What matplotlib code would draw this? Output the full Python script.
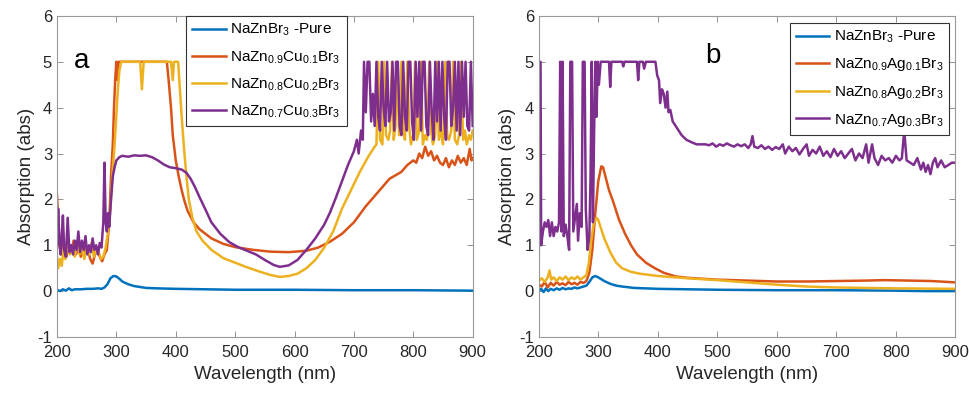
import matplotlib
matplotlib.use("Agg")
import matplotlib.pyplot as plt

plt.rcParams['font.family'] = ['Liberation Sans', 'DejaVu Sans']
plt.rcParams['mathtext.default'] = 'regular'
plt.rcParams['axes.unicode_minus'] = False

# colores tipo MATLAB
c_blue = '#0072BD'
c_orange = '#D95319'
c_yellow = '#EDB120'
c_purple = '#7E2F8E'

# ---------------- panel a (Cu) ----------------
a_pure_wl = [200, 205, 210, 215, 220, 225, 230, 240, 250, 260, 270, 275, 280, 285, 290, 295,
             300, 305, 310, 320, 330, 340, 350, 370, 400, 450, 500, 600, 700, 800, 900]
a_pure_abs = [0.03, 0.0, 0.04, 0.01, 0.06, 0.02, 0.04, 0.04, 0.05, 0.05, 0.06, 0.05, 0.08, 0.15, 0.28, 0.33,
              0.32, 0.27, 0.21, 0.15, 0.11, 0.09, 0.07, 0.06, 0.05, 0.04, 0.03, 0.03, 0.02, 0.02, 0.01]

a_cu1_wl = [200, 202, 204, 207, 210, 213, 216, 220, 224, 228, 232, 236, 240, 244, 248, 252, 256, 260,
            264, 268, 272, 276, 280, 284, 288, 291, 294, 296, 298, 300, 302, 304, 385, 388, 392, 395,
            400, 405, 410, 415, 420, 430, 440, 460, 480, 500, 530, 560, 590, 620, 640, 660, 680, 700,
            720, 740, 760, 780, 790, 800, 805, 810, 815, 820, 825, 830, 835, 840, 845, 850, 855, 860,
            865, 870, 875, 880, 885, 890, 895, 898, 900]
a_cu1_abs = [2.1, 1.6, 1.0, 0.8, 1.3, 0.9, 0.75, 1.0, 0.85, 1.1, 0.8, 0.95, 0.75, 1.0, 0.85, 0.9, 0.7, 0.6,
             0.8, 0.95, 0.75, 0.65, 0.8, 0.9, 1.5, 2.5, 3.2, 4.0, 4.6, 5.0, 4.6, 5.0, 5.0, 4.6, 4.0, 3.4,
             2.85, 2.5, 2.2, 1.95, 1.75, 1.5, 1.35, 1.15, 1.03, 0.96, 0.9, 0.86, 0.85, 0.88, 0.95, 1.08, 1.25, 1.5,
             1.85, 2.15, 2.45, 2.6, 2.75, 2.85, 2.8, 3.0, 2.9, 3.15, 2.95, 3.05, 2.85, 2.95, 2.8, 2.75, 2.9, 2.7,
             2.85, 2.75, 2.95, 2.8, 2.9, 2.75, 3.1, 2.85, 2.9]

a_cu2_wl = [200, 202, 205, 208, 211, 214, 218, 222, 226, 230, 234, 238, 242, 246, 250, 254, 258, 262,
            266, 270, 274, 278, 282, 286, 290, 293, 296, 299, 302, 305, 308, 340, 343, 346, 392, 395,
            397, 404, 407, 410, 414, 418, 422, 428, 435, 445, 460, 480, 500, 520, 540, 560, 575, 590,
            605, 620, 635, 650, 665, 680, 695, 710, 725, 735, 738, 741, 744, 748, 751, 754, 758, 761,
            764, 767, 770, 773, 776, 780, 783, 786, 790, 793, 796, 800, 803, 806, 810, 813, 816, 820,
            823, 827, 830, 833, 837, 840, 843, 847, 850, 854, 857, 860, 864, 867, 870, 874, 877, 880,
            884, 887, 890, 894, 897, 900]
a_cu2_abs = [0.75, 0.5, 0.7, 0.55, 0.9, 0.7, 1.0, 0.8, 0.95, 0.75, 1.1, 0.8, 0.9, 0.7, 0.95, 0.8, 1.05, 0.75,
             0.9, 0.85, 0.7, 0.75, 0.95, 1.3, 1.8, 2.5, 3.0, 3.6, 4.3, 4.8, 5.0, 5.0, 4.4, 5.0, 5.0, 4.6,
             5.0, 5.0, 4.4, 3.8, 3.1, 2.5, 2.0, 1.6, 1.3, 1.1, 0.9, 0.72, 0.62, 0.52, 0.43, 0.35, 0.31, 0.33,
             0.38, 0.5, 0.68, 0.95, 1.3, 1.8, 2.2, 2.6, 2.95, 3.15, 3.2, 5.0, 3.3, 3.2, 5.0, 3.4, 3.3, 3.5,
             5.0, 3.3, 3.6, 5.0, 3.4, 5.0, 3.5, 3.3, 5.0, 3.6, 3.2, 3.4, 5.0, 3.3, 3.5, 5.0, 3.2, 3.4,
             3.3, 5.0, 3.5, 3.2, 3.4, 5.0, 3.3, 3.5, 3.2, 5.0, 3.4, 3.3, 3.5, 5.0, 3.3, 3.2, 3.4, 5.0,
             3.3, 3.5, 3.2, 3.4, 3.3, 3.5]

a_cu3_wl = [200, 202, 204, 206, 208, 210, 212, 215, 218, 221, 224, 227, 230, 233, 236, 239, 242, 245,
            248, 251, 254, 257, 260, 263, 266, 269, 272, 275, 278, 280, 282, 284, 286, 288, 291, 294,
            297, 300, 305, 310, 320, 330, 340, 350, 360, 370, 380, 390, 400, 410, 418, 425, 432, 440,
            450, 460, 475, 490, 505, 520, 535, 550, 565, 575, 590, 605, 620, 635, 650, 660, 670, 680,
            690, 700, 705, 708, 712, 715, 717, 720, 723, 726, 729, 732, 735, 738, 741, 744, 747, 750,
            753, 756, 759, 762, 765, 768, 771, 774, 777, 780, 783, 786, 789, 792, 795, 798, 801, 804,
            807, 810, 813, 816, 819, 822, 825, 828, 831, 834, 837, 840, 843, 846, 849, 852, 855, 858,
            861, 864, 867, 870, 873, 876, 879, 882, 885, 888, 891, 894, 897, 900]
a_cu3_abs = [1.0, 1.8, 1.1, 0.8, 1.2, 1.65, 0.9, 0.75, 1.6, 0.85, 1.0, 0.8, 1.1, 0.9, 1.3, 0.85, 1.1, 0.9,
             1.2, 0.8, 1.0, 0.85, 1.15, 0.9, 1.0, 0.8, 1.05, 0.95, 1.5, 2.8, 1.5, 1.3, 1.7, 1.4, 2.0, 2.5,
             2.7, 2.85, 2.92, 2.95, 2.93, 2.96, 2.95, 2.96, 2.92, 2.85, 2.76, 2.7, 2.68, 2.65, 2.58, 2.45, 2.28, 2.05,
             1.78, 1.5, 1.25, 1.07, 0.96, 0.88, 0.8, 0.68, 0.57, 0.53, 0.56, 0.68, 0.9, 1.15, 1.45, 1.72, 2.05, 2.4,
             2.75, 3.05, 3.3, 3.0, 3.5, 3.3, 5.0, 3.9, 5.0, 5.0, 3.7, 4.3, 3.6, 5.0, 3.8, 3.5, 5.0, 4.0,
             3.6, 5.0, 3.7, 3.9, 5.0, 3.5, 5.0, 5.0, 3.6, 3.4, 5.0, 3.8, 3.5, 5.0, 5.0, 3.7, 3.3, 5.0,
             3.8, 5.0, 3.5, 5.0, 5.0, 3.6, 3.4, 5.0, 3.9, 3.3, 5.0, 3.7, 5.0, 3.5, 5.0, 3.8, 3.3, 5.0,
             5.0, 3.6, 4.0, 5.0, 3.5, 5.0, 3.4, 5.0, 3.8, 5.0, 3.6, 3.5, 5.0, 3.6]

# ---------------- panel b (Ag) ----------------
b_pure_wl = [200, 204, 208, 212, 216, 220, 225, 230, 235, 240, 245, 250, 255, 260, 265, 270, 275, 280,
             285, 290, 295, 300, 305, 310, 320, 330, 340, 360, 380, 400, 450, 500, 600, 700, 800, 850, 900]
b_pure_abs = [0.0, 0.05, -0.02, 0.06, 0.0, 0.05, 0.02, 0.06, 0.03, 0.07, 0.04, 0.06, 0.05, 0.08, 0.06, 0.08, 0.1, 0.12,
              0.2, 0.3, 0.33, 0.3, 0.26, 0.22, 0.16, 0.12, 0.1, 0.07, 0.06, 0.05, 0.04, 0.03, 0.02, 0.02, 0.01, 0.0, 0.0]

b_ag1_wl = [200, 205, 210, 215, 220, 225, 230, 235, 240, 245, 250, 255, 260, 265, 270, 275, 280, 285,
            290, 295, 300, 305, 308, 312, 318, 325, 335, 345, 355, 365, 380, 395, 410, 430, 450, 500,
            550, 600, 650, 700, 750, 780, 820, 860, 900]
b_ag1_abs = [0.15, 0.1, 0.2, 0.08, 0.18, 0.12, 0.2, 0.14, 0.17, 0.13, 0.2, 0.15, 0.18, 0.14, 0.2, 0.18, 0.22, 0.4,
             0.9, 1.7, 2.4, 2.72, 2.7, 2.5, 2.2, 1.95, 1.55, 1.25, 1.0, 0.8, 0.62, 0.5, 0.4, 0.32, 0.29, 0.25,
             0.23, 0.21, 0.21, 0.22, 0.23, 0.24, 0.23, 0.22, 0.19]

b_ag2_wl = [200, 205, 210, 215, 218, 221, 225, 230, 235, 240, 245, 250, 255, 260, 265, 270, 275, 280,
            284, 288, 292, 297, 300, 305, 310, 315, 320, 330, 340, 355, 370, 400, 450, 500, 550, 600,
            650, 700, 750, 800, 900]
b_ag2_abs = [0.22, 0.28, 0.2, 0.3, 0.45, 0.25, 0.3, 0.22, 0.3, 0.25, 0.32, 0.24, 0.3, 0.26, 0.32, 0.25, 0.3, 0.35,
             0.6, 1.1, 1.45, 1.6, 1.55, 1.35, 1.15, 1.0, 0.85, 0.62, 0.5, 0.42, 0.38, 0.33, 0.28, 0.24, 0.19, 0.14,
             0.1, 0.08, 0.07, 0.06, 0.05]

b_ag3_wl = [200, 201, 203, 204, 207, 210, 213, 216, 219, 222, 225, 228, 231, 234, 236, 238, 240, 242,
            245, 248, 251, 253, 256, 258, 261, 264, 266, 269, 272, 274, 277, 279, 282, 285, 287, 289,
            291, 293, 295, 297, 299, 301, 304, 318, 320, 322, 340, 342, 344, 365, 367, 369, 375, 377,
            380, 396, 399, 402, 404, 407, 410, 413, 416, 418, 421, 425, 430, 435, 440, 448, 456, 465,
            475, 480, 486, 492, 498, 504, 510, 516, 522, 528, 534, 540, 546, 552, 556, 559, 562, 568,
            574, 580, 586, 592, 598, 604, 610, 614, 620, 626, 632, 638, 644, 650, 654, 660, 666, 672,
            678, 684, 690, 696, 702, 708, 714, 720, 726, 732, 738, 744, 750, 754, 760, 764, 770, 776,
            782, 788, 794, 800, 806, 810, 814, 818, 824, 830, 836, 842, 846, 850, 854, 858, 862, 866,
            870, 876, 882, 888, 894, 900]
b_ag3_abs = [0.6, 5.0, 5.0, 1.0, 1.3, 1.5, 1.4, 1.55, 1.2, 1.5, 1.2, 1.4, 1.3, 1.5, 5.0, 1.3, 5.0, 1.2,
             1.45, 1.2, 0.9, 5.0, 5.0, 1.3, 1.6, 1.9, 1.1, 1.7, 1.4, 5.0, 5.0, 1.8, 0.9, 1.2, 2.5, 5.0,
             1.5, 3.5, 5.0, 3.8, 5.0, 4.5, 5.0, 5.0, 4.45, 5.0, 5.0, 4.9, 5.0, 5.0, 4.6, 5.0, 5.0, 4.85,
             5.0, 5.0, 4.7, 4.6, 4.1, 4.4, 4.3, 4.0, 4.35, 3.9, 3.95, 3.7, 3.6, 3.5, 3.4, 3.3, 3.25, 3.2,
             3.2, 3.2, 3.18, 3.22, 3.15, 3.2, 3.17, 3.22, 3.18, 3.15, 3.2, 3.16, 3.2, 3.12, 3.2, 3.38, 3.15, 3.12,
             3.18, 3.1, 3.15, 3.08, 3.14, 3.1, 3.2, 3.0, 3.15, 3.05, 3.12, 2.98, 3.1, 3.2, 2.95, 3.08, 3.0, 3.15,
             2.95, 3.05, 2.92, 3.1, 2.95, 3.05, 2.9, 3.0, 3.1, 2.85, 3.0, 2.9, 3.2, 2.8, 3.2, 2.9, 2.75, 2.95,
             2.85, 2.9, 2.8, 2.95, 2.85, 2.9, 3.5, 2.85, 2.8, 2.75, 2.9, 2.65, 2.8, 2.6, 2.75, 2.55, 2.8, 2.9,
             2.7, 2.85, 2.7, 2.75, 2.8, 2.8]

labels_a = ['NaZnBr$_3$ -Pure', 'NaZn$_{0.9}$Cu$_{0.1}$Br$_3$',
            'NaZn$_{0.8}$Cu$_{0.2}$Br$_3$', 'NaZn$_{0.7}$Cu$_{0.3}$Br$_3$']
labels_b = ['NaZnBr$_3$ -Pure', 'NaZn$_{0.9}$Ag$_{0.1}$Br$_3$',
            'NaZn$_{0.8}$Ag$_{0.2}$Br$_3$', 'NaZn$_{0.7}$Ag$_{0.3}$Br$_3$']

fig = plt.figure(figsize=(9.69, 3.93), dpi=100)
ax_a = fig.add_axes([0.0588, 0.1425, 0.429, 0.817])
ax_b = fig.add_axes([0.556, 0.1425, 0.430, 0.817])

series_a = [(a_pure_wl, a_pure_abs, c_blue), (a_cu1_wl, a_cu1_abs, c_orange),
            (a_cu2_wl, a_cu2_abs, c_yellow), (a_cu3_wl, a_cu3_abs, c_purple)]
series_b = [(b_pure_wl, b_pure_abs, c_blue), (b_ag1_wl, b_ag1_abs, c_orange),
            (b_ag2_wl, b_ag2_abs, c_yellow), (b_ag3_wl, b_ag3_abs, c_purple)]

for ax, series, labels, letra, lpos, tpos in [
        (ax_a, series_a, labels_a, 'a', (0.31, 1.0), (0.04, 0.86)),
        (ax_b, series_b, labels_b, 'b', (0.602, 0.978), (0.40, 0.875))]:
    for (wl, ab, col), lab in zip(series, labels):
        ax.plot(wl, ab, color=col, lw=1.8, label=lab)
    ax.set_xlim(200, 900)
    ax.set_ylim(-1, 6)
    ax.set_xticks(range(200, 901, 100))
    ax.set_yticks(range(-1, 7))
    ax.tick_params(direction='in', top=True, right=True, length=4, width=0.6,
                   labelsize=12, colors='0.15', color='0.5')
    ax.tick_params(axis='x', pad=6)
    for sp in ax.spines.values():
        sp.set_color('0.6')
        sp.set_linewidth(0.8)
    ax.set_xlabel('Wavelength (nm)', fontsize=13.5, color='0.15', labelpad=4)
    ax.set_ylabel('Absorption (abs)', fontsize=13.5, color='0.15', labelpad=2)
    ax.text(tpos[0], tpos[1], letra, transform=ax.transAxes, fontsize=20,
            ha='left', va='center', color='black')
    leg = ax.legend(loc='upper left', bbox_to_anchor=lpos, borderaxespad=0,
                    fontsize=11, fancybox=False, framealpha=1, edgecolor='0.2',
                    handlelength=2.2, handletextpad=0.3, labelspacing=0.7,
                    borderpad=0.4)
    leg.get_frame().set_linewidth(0.8)

plt.savefig('out.png', dpi=100)
